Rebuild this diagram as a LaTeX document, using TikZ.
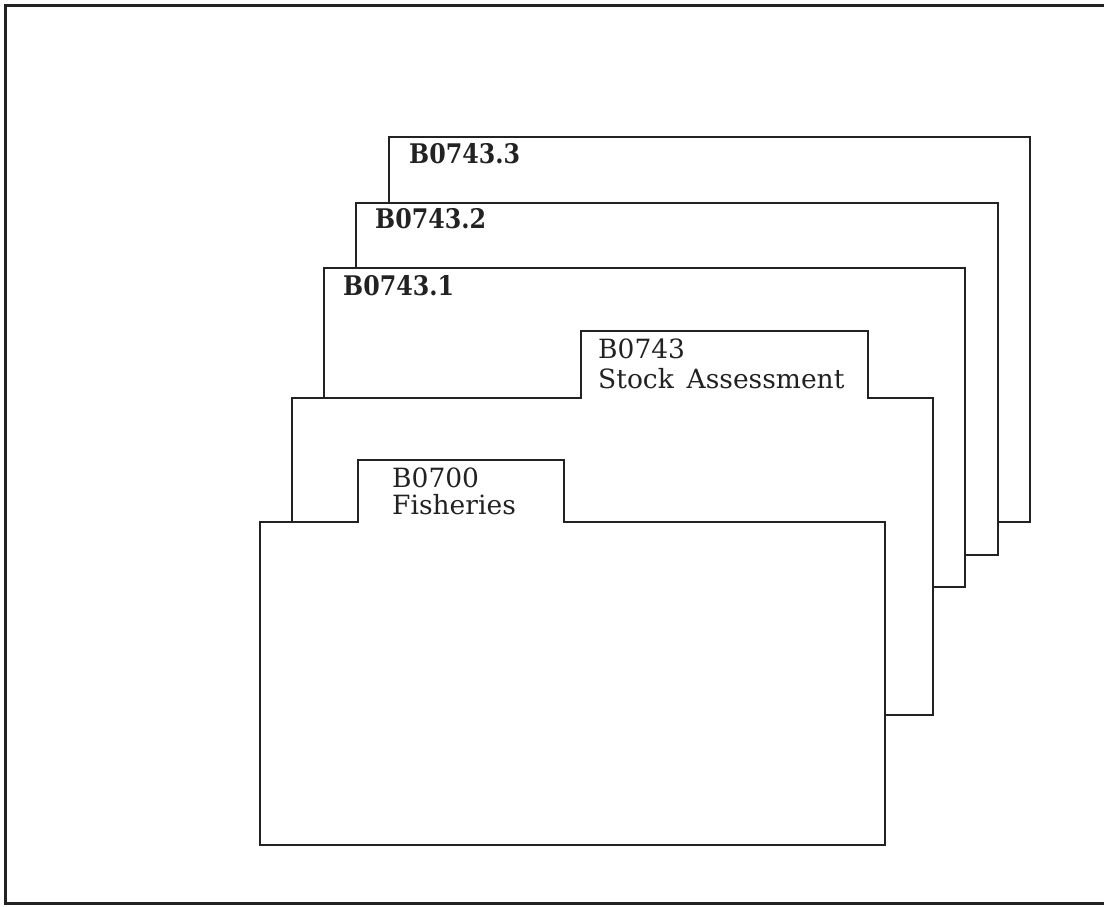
\documentclass[tikz,border=0pt]{standalone}
\usepackage{fontspec}
\newfontfamily\labfont[FakeStretch=0.88]{DejaVu Serif}
\newfontfamily\txtfont{DejaVu Serif}
\definecolor{ink}{HTML}{222222}
\tikzset{
  cardline/.style={line width=2.8pt, draw=ink, line join=miter},
  framel/.style={line width=3pt, draw=ink},
  lab/.style={anchor=base west, inner sep=0pt, text=ink, font=\labfont\bfseries\fontsize{27}{30}\selectfont},
  txt/.style={anchor=base west, inner sep=0pt, text=ink, align=left}
}
\begin{document}
\begin{tikzpicture}[x=1pt,y=-1pt]
\useasboundingbox (0,0) rectangle (1104,906);
% outer frame (right side lies outside the picture)
\draw[framel] (1115,5) -- (5,5) -- (5,903) -- (1115,903);
% card B0743.3
\draw[cardline] (389,203) -- (389,137) -- (1030,137) -- (1030,522) -- (998,522);
% card B0743.2
\draw[cardline] (356,268) -- (356,203) -- (998,203) -- (998,555) -- (965,555);
% card B0743.1
\draw[cardline] (324,398) -- (324,268) -- (965,268) -- (965,587) -- (933,587);
% card B0743
\draw[cardline] (292,522) -- (292,398) -- (581,398) -- (581,331) -- (868,331) -- (868,398) -- (933,398) -- (933,715) -- (885,715);
% card B0700
\draw[cardline] (260,522) -- (358,522) -- (358,460) -- (564,460) -- (564,522) -- (885,522) -- (885,845) -- (260,845) -- cycle;
% labels
\node[lab] (l3) at (409,163) {B0743.3};
\node[lab] (l2) at (375,228) {B0743.2};
\node[lab] (l1) at (343,295) {B0743.1};
\node[txt, font=\txtfont\fontsize{26.5}{30}\selectfont] (l0) at (598,388) {B0743\\Stock\, Assessment};
\node[txt, font=\txtfont\fontsize{26.5}{27}\selectfont] (lf) at (392,514) {B0700\\Fisheries};
\end{tikzpicture}
\end{document}
